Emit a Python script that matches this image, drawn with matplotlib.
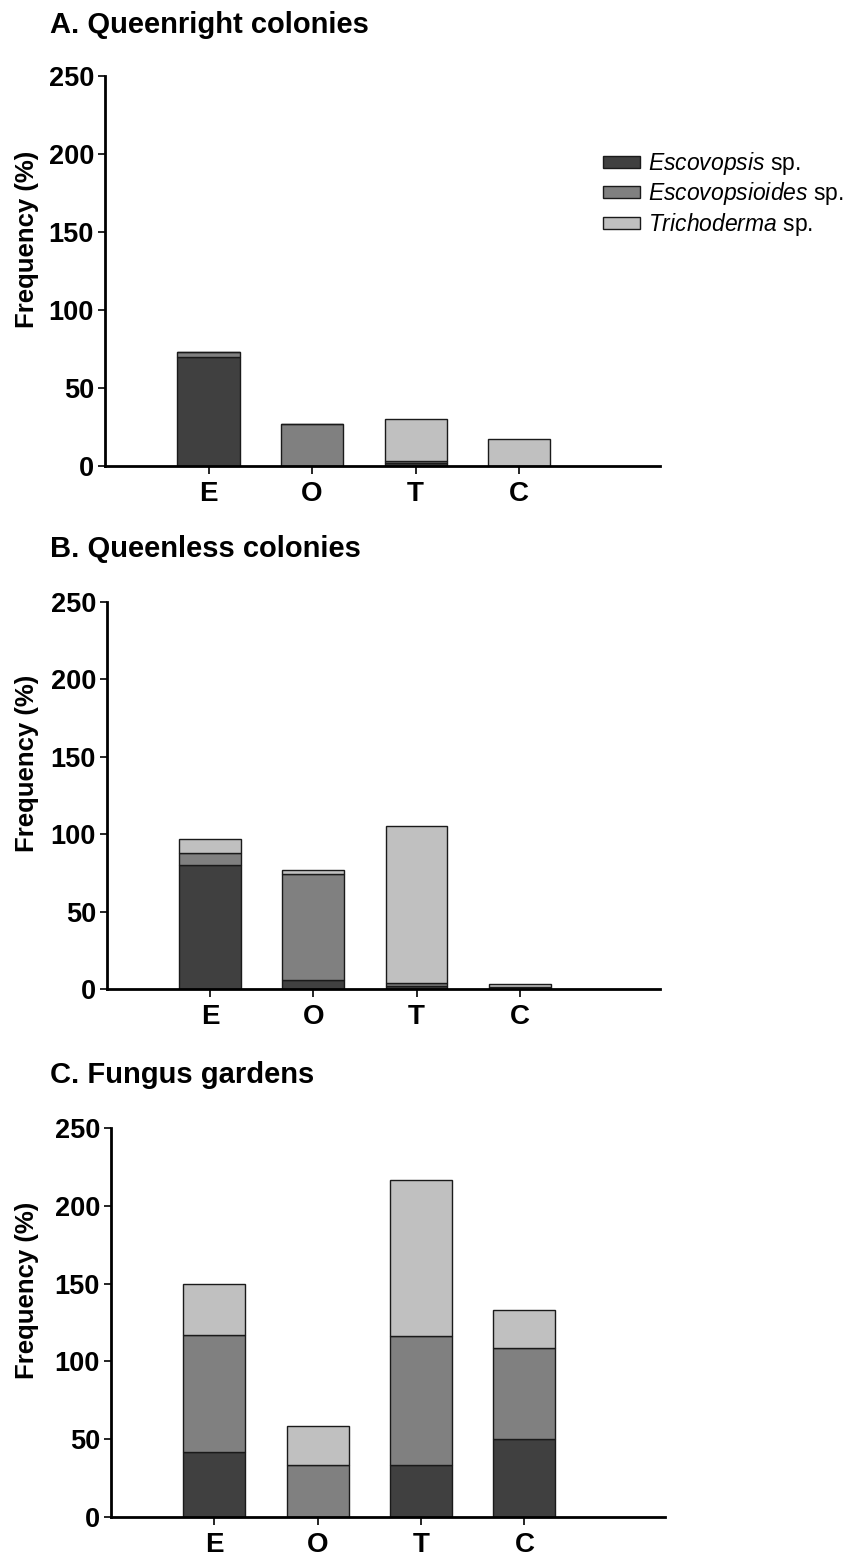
import numpy as np
import matplotlib
matplotlib.use("Agg")
import matplotlib.pyplot as plt

plt.rcParams['font.family'] = ['Liberation Sans', 'DejaVu Sans']
plt.rcParams['font.weight'] = 'bold'
plt.rcParams['mathtext.fontset'] = 'custom'
plt.rcParams['mathtext.rm'] = 'Liberation Sans:weight=normal'
plt.rcParams['mathtext.it'] = 'Liberation Sans:style=italic:weight=normal'

groups = ['E', 'O', 'T', 'C']
species = [r'$\it{Escovopsis}$ sp.', r'$\it{Escovopsioides}$ sp.', r'$\it{Trichoderma}$ sp.']
colors = ['#404040', '#808080', '#c0c0c0']

# frequency (%) per group: Escovopsis, Escovopsioides, Trichoderma
queenright_esc = [70, 0, 2, 0]
queenright_escoides = [3, 27, 1, 0]
queenright_tricho = [0, 0, 27, 17]

queenless_esc = [80, 6, 2, 0]
queenless_escoides = [8, 68, 2, 1]
queenless_tricho = [9, 3, 101, 2]

garden_esc = [41.7, 0, 33.3, 50]
garden_escoides = [75, 33.3, 83.3, 58.3]
garden_tricho = [33.3, 25, 100, 25]

panels = [
    ("A. Queenright colonies", [queenright_esc, queenright_escoides, queenright_tricho]),
    ("B. Queenless colonies", [queenless_esc, queenless_escoides, queenless_tricho]),
    ("C. Fungus gardens", [garden_esc, garden_escoides, garden_tricho]),
]

W, H = 857, 1557
fig = plt.figure(figsize=(W / 100, H / 100), dpi=100)

# axes boxes in pixels: left, right, top, bottom
boxes = [(105, 660, 76, 466), (107, 660, 602, 989), (111, 665, 1128, 1517)]
title_y = [25, 549, 1075]

x = np.arange(1, len(groups) + 1)
for (title, layers), (l, r, t, b), ty in zip(panels, boxes, title_y):
    ax = fig.add_axes([l / W, 1 - b / H, (r - l) / W, (b - t) / H])
    bottom = np.zeros(len(groups))
    for vals, c, lab in zip(layers, colors, species):
        vals = np.array(vals, dtype=float)
        ax.bar(x, vals, width=0.6, bottom=bottom, color=c, edgecolor='#1a1a1a',
               linewidth=1.0, label=lab)
        bottom += vals
    ax.set_xlim(0, 5.36)
    ax.set_ylim(0, 250)
    ax.set_yticks([0, 50, 100, 150, 200, 250])
    ax.set_xticks(x)
    ax.set_xticklabels(groups, fontsize=20, fontweight='bold')
    ax.tick_params(axis='y', labelsize=19.5, width=1.2, length=5, pad=3)
    ax.tick_params(axis='x', width=1.2, length=6, pad=5)
    for s in ['top', 'right']:
        ax.spines[s].set_visible(False)
    for s in ['left', 'bottom']:
        ax.spines[s].set_linewidth(2.0)
    ax.set_ylabel('Frequency (%)', fontsize=18.5, fontweight='bold')
    # label sits a little above the middle of the axis
    mid = (t + b) / 2 - 32
    ax.yaxis.set_label_coords((39 - l) / (r - l), (b - mid) / (b - t))
    fig.text(50 / W, 1 - ty / H, title, fontsize=21, fontweight='bold', va='center', ha='left')
    if title.startswith('A'):
        handles, labels = ax.get_legend_handles_labels()

fig.legend(handles, labels, loc='upper left', bbox_to_anchor=(603 / W, 1 - 150 / H),
           frameon=False, handlelength=1.6, handleheight=0.45,
           handletextpad=0.35, labelspacing=0.15, borderpad=0, borderaxespad=0,
           prop={'weight': 'normal', 'size': 16.5})

fig.savefig('out.png', dpi=100)
